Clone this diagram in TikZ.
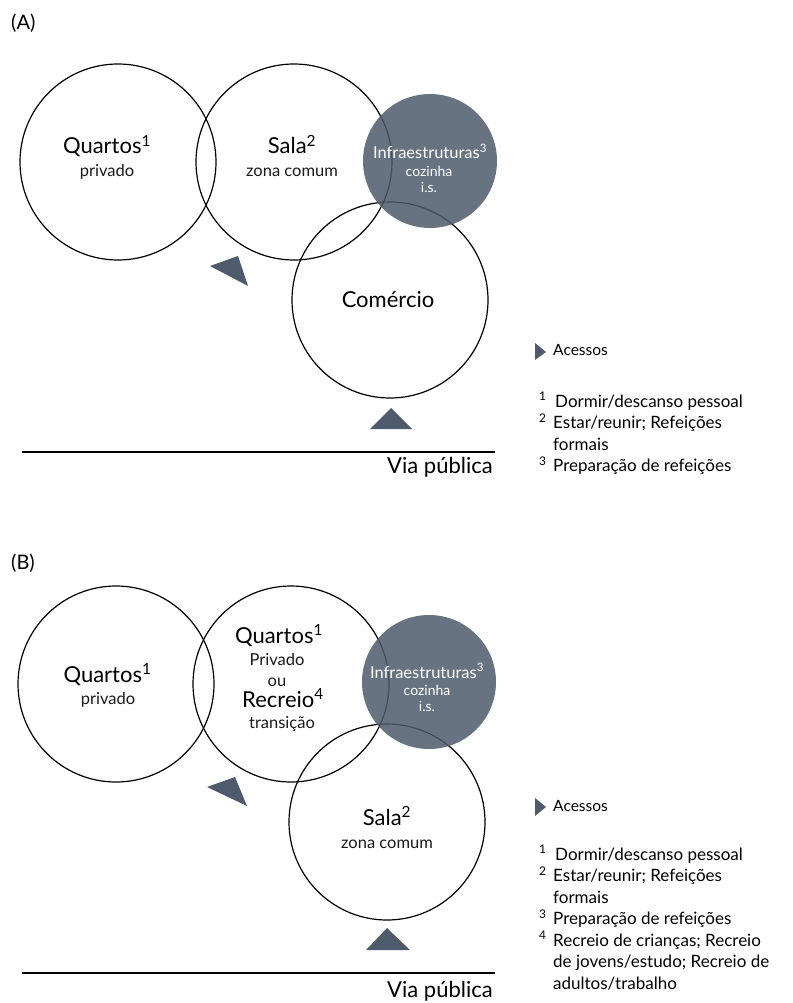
\documentclass[tikz,border=0pt]{standalone}
\usepackage{fontspec}
\setmainfont{Lato}
\usetikzlibrary{positioning}
\definecolor{slate}{HTML}{4D5B6C}
\tikzset{
  zone/.style={draw=black, line width=1.2pt},
  infra/.style={fill=slate, fill opacity=0.85, draw=none},
  acc/.style={fill=slate, draw=none},
  street/.style={draw=black, line width=1.3pt},
  lbl/.style={anchor=base, inner sep=0pt, font=\fontsize{22}{25}\selectfont},
  sub/.style={anchor=base, inner sep=0pt, font=\fontsize{16.5}{19}\selectfont, text=black!90},
  ilbl/.style={anchor=base, inner sep=0pt, text=white, font=\fontsize{16.5}{19}\selectfont},
  isub/.style={anchor=base, inner sep=0pt, text=white, font=\fontsize{14}{16}\selectfont},
  note/.style={anchor=base west, inner sep=0pt, font=\fontsize{17}{20}\selectfont},
  road/.style={anchor=base east, inner sep=0pt, font=\fontsize{22}{25}\selectfont},
  accl/.style={anchor=base west, inner sep=0pt, font=\fontsize{15.5}{18}\selectfont},
  tag/.style={anchor=base west, inner sep=0pt, font=\fontsize{20}{24}\selectfont},
}
\newcommand{\supr}[1]{\textsuperscript{#1}}
% footnote number in a fixed-width slot before the text
\newcommand{\fnum}[2][14pt]{\makebox[#1][l]{\supr{#2}}}
\begin{document}
\begin{tikzpicture}[x=1pt, y=-1pt]
\useasboundingbox (0,0) rectangle (792,1003);

% ---------------- (A) ----------------
\node[tag] (tagA) at (11,30) {(A)};
\draw[zone] (118,162) circle (98);
\draw[zone] (294,162) circle (98);
\draw[zone] (390,300) circle (98);
\fill[infra] (430,161) circle (67);

\node[lbl] (qA) at (107,154) {Quartos\supr{1}};
\node[sub] (qAs) at (107,177) {privado};
\node[lbl] (sA) at (292,154) {Sala\supr{2}};
\node[sub] (sAs) at (292,177) {zona comum};
\node[ilbl] (iA) at (430,159) {Infraestruturas\supr{3}};
\node[isub] (iAs1) at (429,176) {cozinha};
\node[isub] (iAs2) at (429,193) {i.s.};
\node[lbl] (cA) at (388,307) {Comércio};

\fill[acc] (210,266) -- (238,256) -- (248,286) -- cycle;
\fill[acc] (370,429) -- (391,408) -- (412,429) -- cycle;

\coordinate (roadA0) at (22,452);
\coordinate (roadA1) at (495,452);
\draw[street] (roadA0) -- (roadA1);
\node[road] (vA) at (493,473) {Via pública};

\fill[acc] (535,343) -- (546,352) -- (535,360) -- cycle;
\node[accl] (accA) at (553,355) {Acessos};
\node[note] (nA1) at (539,407) {\fnum[16pt]{1}Dormir/descanso pessoal};
\node[note] (nA2) at (539,428.5) {\fnum{2}Estar/reunir; Refeições};
\node[note] (nA2b) at (553,450) {formais};
\node[note] (nA3) at (539,471.5) {\fnum{3}Preparação de refeições};

% ---------------- (B) ----------------
\node[tag] (tagB) at (11,569) {(B)};
\draw[zone] (116,684) circle (98);
\draw[zone] (291,684) circle (98);
\draw[zone] (387,822) circle (98);
\fill[infra] (429,682) circle (67);

\node[lbl] (qB) at (107.5,682) {Quartos\supr{1}};
\node[sub] (qBs) at (108,704) {privado};
\node[lbl] (mB1) at (279,643) {Quartos\supr{1}};
\node[sub] (mB2) at (277,665) {Privado};
\node[sub] (mB3) at (277,686) {ou};
\node[lbl] (mB4) at (283,707) {Recreio\supr{4}};
\node[sub] (mB5) at (282,728) {transição};
\node[ilbl] (iB) at (427,678) {Infraestruturas\supr{3}};
\node[isub] (iBs1) at (427,695) {cozinha};
\node[isub] (iBs2) at (427,711) {i.s.};
\node[lbl] (sB) at (387,825) {Sala\supr{2}};
\node[sub] (sBs) at (387,848) {zona comum};

\fill[acc] (207,787) -- (235,777) -- (247,806) -- cycle;
\fill[acc] (366,950) -- (387,928) -- (410,950) -- cycle;

\coordinate (roadB0) at (22,973);
\coordinate (roadB1) at (495,973);
\draw[street] (roadB0) -- (roadB1);
\node[road] (vB) at (493,997) {Via pública};

\fill[acc] (535,798) -- (546,807) -- (535,816) -- cycle;
\node[accl] (accB) at (553,811) {Acessos};
\node[note] (nB1) at (539,860) {\fnum[16pt]{1}Dormir/descanso pessoal};
\node[note] (nB2) at (539,881.5) {\fnum{2}Estar/reunir; Refeições};
\node[note] (nB2b) at (553,903) {formais};
\node[note] (nB3) at (539,924.5) {\fnum{3}Preparação de refeições};
\node[note] (nB4) at (539,946) {\fnum{4}Recreio de crianças; Recreio};
\node[note] (nB4b) at (553,967.5) {de jovens/estudo; Recreio de};
\node[note] (nB4c) at (553,989) {adultos/trabalho};
\end{tikzpicture}
\end{document}
